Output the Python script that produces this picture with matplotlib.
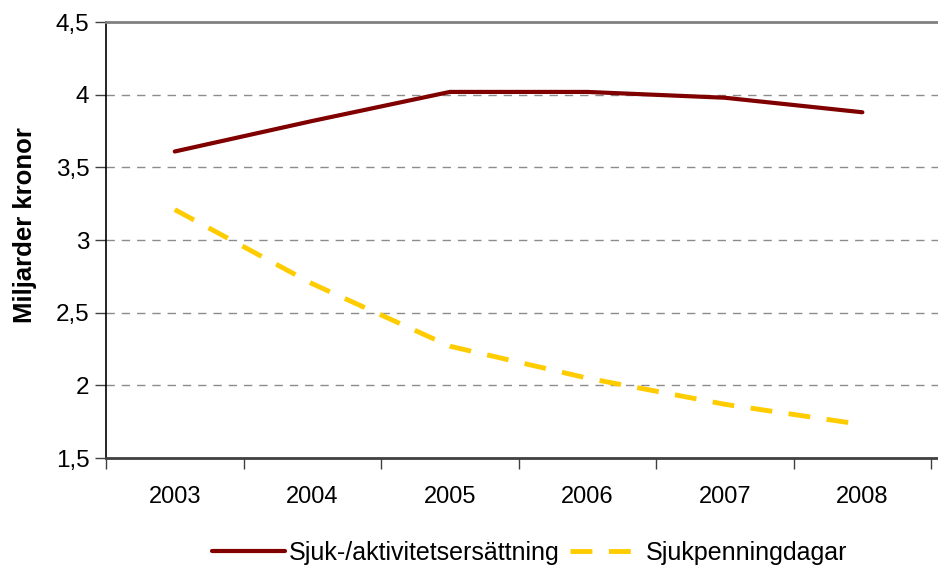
import matplotlib
matplotlib.use("Agg")
import matplotlib.pyplot as plt
import numpy as np

years = ["2003", "2004", "2005", "2006", "2007", "2008"]
sjuk_aktivitet = [3.61, 3.82, 4.02, 4.02, 3.98, 3.88]
sjukpenning = [3.21, 2.70, 2.27, 2.05, 1.87, 1.73]
yticks = [1.5, 2, 2.5, 3, 3.5, 4, 4.5]
ytick_labels = ["1,5", "2", "2,5", "3", "3,5", "4", "4,5"]

plt.rcParams['font.family'] = ['Liberation Sans', 'DejaVu Sans']

fig = plt.figure(figsize=(9.38, 5.69), dpi=100)
L, B, H = 0.113, 0.195, 0.766
ax = fig.add_axes([L, B, 1.0 - L, H])

x = np.arange(1, len(years) + 1)
ax.plot(x, sjuk_aktivitet, color="#800000", lw=3, solid_capstyle="round",
        label="Sjuk-/aktivitetsersättning", zorder=3)
ax.plot(x, sjukpenning, color="#FFCC00", lw=3.5, dashes=(4.5, 3.4),
        label="Sjukpenningdagar", zorder=3)

ax.set_xlim(0.5, 6.55)
ax.set_ylim(1.5, 4.5)
ax.set_yticks(yticks)
ax.set_yticklabels(ytick_labels, fontsize=17.5)
for yv in yticks[1:-1]:
    ax.axhline(yv, color="#8c8c8c", lw=1, dashes=(6, 5), zorder=1)

ax.set_xticks(np.arange(0.5, 7.0, 1.0))
ax.set_xticklabels([])
ax.set_xticks(x, minor=True)
ax.set_xticklabels(years, minor=True, fontsize=17)
ax.tick_params(axis="x", which="major", length=8, width=1, color="#404040", direction="out")
ax.tick_params(axis="x", which="minor", length=0, pad=20)
ax.tick_params(axis="y", length=8, width=1, color="#404040", direction="out", pad=4)

ax.spines["right"].set_visible(False)
ax.spines["top"].set_color("#808080")
ax.spines["top"].set_linewidth(2)
ax.spines["left"].set_color("black")
ax.spines["left"].set_linewidth(1.2)
ax.spines["bottom"].set_color("#404040")
ax.spines["bottom"].set_linewidth(2)

ax.set_ylabel("Miljarder kronor", fontsize=18.5, fontweight="bold")
ax.yaxis.set_label_coords(-0.083, 0.534)

fig.legend(loc="center", bbox_to_anchor=(0.565, 0.028), ncol=2, frameon=False,
           fontsize=18, handlelength=2.9, handletextpad=0.16, columnspacing=0.4)

fig.savefig("out.png", dpi=100)
